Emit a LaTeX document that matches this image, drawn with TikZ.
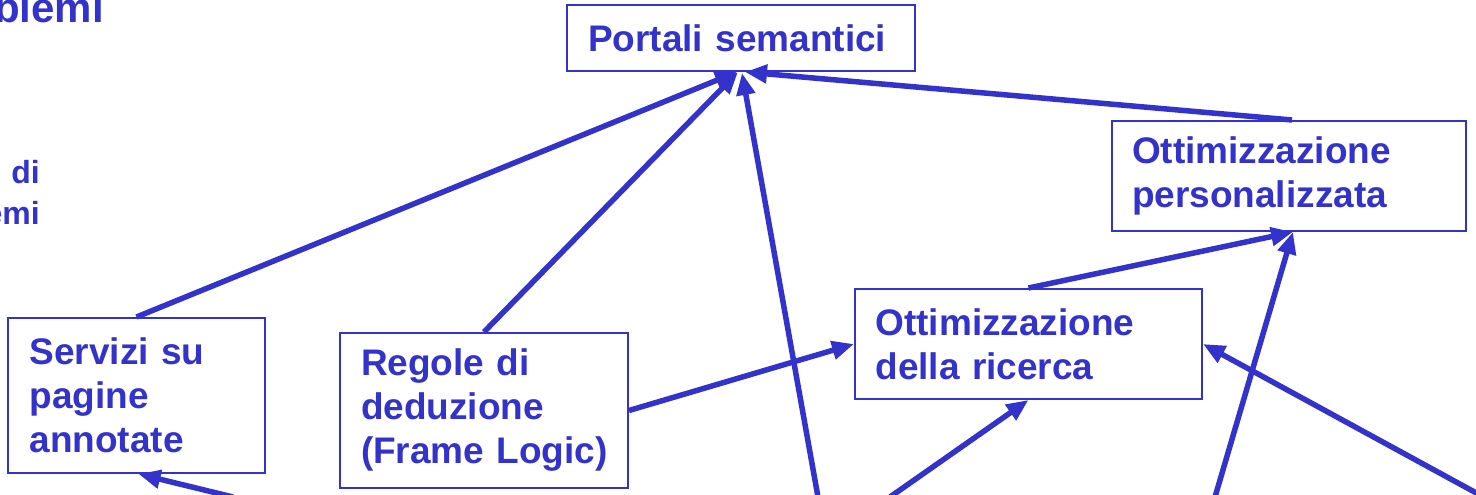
\documentclass[tikz,border=0pt]{standalone}
\usepackage{fontspec}
\setmainfont{Liberation Sans}
\usetikzlibrary{arrows.meta}
\definecolor{ink}{HTML}{3333CC}
\begin{document}
\begin{tikzpicture}[x=1pt,y=1pt,
  box/.style={draw=ink, line width=2pt, text=ink,
    font=\fontsize{37}{44}\selectfont\bfseries, align=left,
    inner xsep=0pt, inner ysep=0pt, anchor=center},
  conn/.style={draw=ink, line width=5.5pt, -{Triangle[length=22pt,width=18pt]}},
  stray/.style={text=ink, inner sep=0pt, anchor=base east}]
\useasboundingbox (0,0) rectangle (1476,495);
% partially visible slide text on the left
\node[stray, font=\fontsize{42}{50}\selectfont\bfseries] (t1) at (104,472) {blemi};
\node[stray, font=\fontsize{32}{40}\selectfont\bfseries] (t2) at (40,311) {di};
\node[stray, font=\fontsize{32}{40}\selectfont\bfseries] (t3) at (40,270) {emi};
% boxes
\node[box, minimum width=348pt, minimum height=66pt, text width=306pt] (portali) at (741,457) {Portali semantici};
\node[box, minimum width=354pt, minimum height=110pt, text width=314pt] (ottpers) at (1289,319) {Ottimizzazione\\personalizzata};
\node[box, minimum width=347pt, minimum height=110pt, text width=306pt] (ricerca) at (1028.5,151) {Ottimizzazione\\della ricerca};
\node[box, minimum width=257pt, minimum height=155pt, text width=214pt] (serv) at (136.5,99.5) {Servizi su\\pagine\\annotate};
\node[box, minimum width=288pt, minimum height=155pt, text width=246pt] (regole) at (484,84.5) {Regole di\\deduzione\\(Frame~Logic)};
% free ends at the picture's edge
\coordinate (b1) at (818,-2);
\coordinate (b2) at (890,-2);
\coordinate (b3) at (1215,-2);
\coordinate (b4) at (1480,0);
\coordinate (b5) at (233,-2);
% connectors
\draw[conn] (serv.north) -- ([xshift=-4pt]portali.south);
\draw[conn] (regole.north) -- ([xshift=-3pt]portali.south);
\draw[conn] (b1) -- ([xshift=1pt,yshift=-1pt]portali.south);
\draw[conn] ([xshift=3pt]ottpers.north) -- ([xshift=4pt]portali.south);
\draw[conn] (regole.east) -- (ricerca.west);
\draw[conn] (ricerca.north) -- ([xshift=4pt]ottpers.south);
\draw[conn] (b2) -- (ricerca.south);
\draw[conn] (b3) -- ([xshift=4pt]ottpers.south);
\draw[conn] (b4) -- (ricerca.east);
\draw[conn] (b5) -- ([xshift=2pt]serv.south);
\end{tikzpicture}
\end{document}
